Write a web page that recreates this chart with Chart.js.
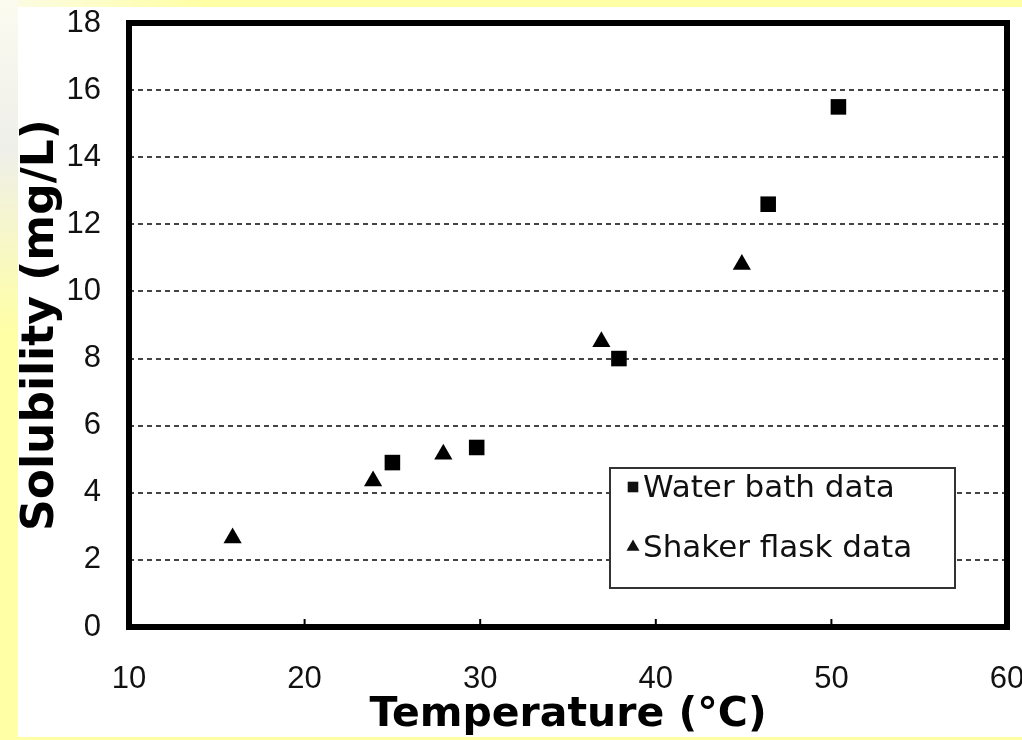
<!DOCTYPE html>
<html>
<head>
<meta charset="utf-8">
<script src="https://cdn.jsdelivr.net/npm/chart.js@4/dist/chart.umd.min.js"></script>
<style>
    html, body { margin: 0; padding: 0; background: #fff; }
    #wrap { width: 1022px; height: 740px; }
</style>
</head>
<body>
<div id="wrap"><canvas id="solChart" width="1022" height="740"></canvas></div>
<script>
// water bath data (squares)
const waterTemp = [25, 29.8, 37.9, 46.4, 50.4];
const waterSol = [4.9, 5.35, 8.0, 12.6, 15.5];

// shaker flask data (triangles)
const shakerTemp = [15.9, 23.9, 27.9, 36.9, 44.9];
const shakerSol = [2.65, 4.35, 5.15, 8.5, 10.8];

const seriesNames = ['Water bath data', 'Shaker flask data'];
const xTitle = 'Temperature (\u00B0C)';
const yTitle = 'Solubility (mg/L)';

function toPoints(xs, ys) {
    return xs.map((x, i) => ({ x: x, y: ys[i] }));
}

const yellow = '#ffffa6';

// yellow slide strips around the white chart
const slideBackground = {
    id: 'slideBackground',
    beforeDraw(chart) {
        const ctx = chart.ctx;
        const w = chart.width, h = chart.height;
        ctx.save();
        ctx.fillStyle = '#ffffff';
        ctx.fillRect(0, 0, w, h);
        const top = ctx.createLinearGradient(0, 0, 200, 0);
        top.addColorStop(0, '#fbfbe8');
        top.addColorStop(1, yellow);
        ctx.fillStyle = top;
        ctx.fillRect(0, 0, w, 7);
        ctx.fillStyle = yellow;
        ctx.fillRect(0, 737, w, 3);
        const left = ctx.createLinearGradient(0, 0, 0, h);
        left.addColorStop(0, '#fbfbf0');
        left.addColorStop(0.2, '#efefea');
        left.addColorStop(0.45, yellow);
        left.addColorStop(1, yellow);
        ctx.fillStyle = left;
        ctx.fillRect(0, 0, 18, h);
        ctx.restore();
    }
};

// thick frame, inner x tick marks and the boxed legend
const frameAndLegend = {
    id: 'frameAndLegend',
    afterDatasetsDraw(chart) {
        const ctx = chart.ctx;
        const a = chart.chartArea;
        const xs = chart.scales.x;
        ctx.save();

        ctx.strokeStyle = '#000';
        ctx.lineWidth = 2;
        xs.ticks.forEach(t => {
            const px = xs.getPixelForValue(t.value);
            if (px <= a.left + 2 || px >= a.right - 2) return;
            ctx.beginPath();
            ctx.moveTo(px, a.bottom);
            ctx.lineTo(px, a.bottom - 8);
            ctx.stroke();
        });

        ctx.lineWidth = 6;
        ctx.lineJoin = 'miter';
        ctx.strokeRect(a.left, a.top, a.right - a.left, a.bottom - a.top);

        // legend box
        const lx = 610, ly = 468, lw = 345, lh = 120;
        ctx.fillStyle = '#fff';
        ctx.fillRect(lx, ly, lw, lh);
        ctx.strokeStyle = '#333';
        ctx.lineWidth = 2;
        ctx.strokeRect(lx, ly, lw, lh);

        ctx.font = '31px "DejaVu Sans", Verdana, sans-serif';
        ctx.textBaseline = 'middle';
        ctx.textAlign = 'left';
        chart.data.datasets.forEach((ds, i) => {
            const cy = ly + 21 + i * 60;
            ctx.fillStyle = '#111';
            Chart.helpers.drawPoint(ctx, {
                pointStyle: ds.pointStyle,
                radius: i === 0 ? 7.5 : 7.5,
                borderWidth: 0
            }, lx + 23, cy - 2);
            ctx.fillStyle = '#111';
            ctx.fillText(ds.label, lx + 33, cy);
        });
        ctx.restore();
    }
};

new Chart(document.getElementById('solChart'), {
    type: 'scatter',
    data: {
        datasets: [
            {
                label: seriesNames[0],
                data: toPoints(waterTemp, waterSol),
                pointStyle: 'rect',
                pointRadius: 11,
                backgroundColor: '#000',
                borderColor: '#000',
                borderWidth: 0
            },
            {
                label: seriesNames[1],
                data: toPoints(shakerTemp, shakerSol),
                pointStyle: 'triangle',
                pointRadius: 10.5,
                backgroundColor: '#000',
                borderColor: '#000',
                borderWidth: 0
            }
        ]
    },
    options: {
        responsive: false,
        animation: false,
        events: [],
        layout: { padding: { left: 0, right: 15, top: 23, bottom: 0 } },
        plugins: {
            legend: { display: false },
            tooltip: { enabled: false }
        },
        scales: {
            x: {
                type: 'linear',
                min: 10,
                max: 60,
                ticks: {
                    stepSize: 10,
                    padding: 26,
                    color: '#111',
                    font: { family: '"Liberation Sans", Arial, sans-serif', size: 31 }
                },
                grid: { display: false },
                border: { display: false },
                title: {
                    display: true,
                    text: xTitle,
                    color: '#000',
                    padding: { top: 0, bottom: 4 },
                    font: { family: '"DejaVu Sans", Verdana, sans-serif', size: 41, weight: 'bold', lineHeight: 1 }
                },
                afterFit(scale) {
                    scale.height = 113;
                    scale.paddingLeft = 0;
                    scale.paddingRight = 0;
                }
            },
            y: {
                type: 'linear',
                min: 0,
                max: 18,
                ticks: {
                    stepSize: 2,
                    padding: 28,
                    color: '#111',
                    font: { family: '"Liberation Sans", Arial, sans-serif', size: 31 }
                },
                grid: {
                    color: '#444',
                    lineWidth: 2,
                    drawTicks: false
                },
                border: { display: false, dash: [5, 4] },
                title: {
                    display: true,
                    text: yTitle,
                    color: '#000',
                    padding: { top: 20, bottom: 0 },
                    font: { family: '"DejaVu Sans", Verdana, sans-serif', size: 44, weight: 'bold', lineHeight: 1 }
                },
                afterFit(scale) {
                    scale.width = 129;
                    scale.paddingTop = 0;
                    scale.paddingBottom = 0;
                }
            }
        }
    },
    plugins: [slideBackground, frameAndLegend]
});
</script>
</body>
</html>
